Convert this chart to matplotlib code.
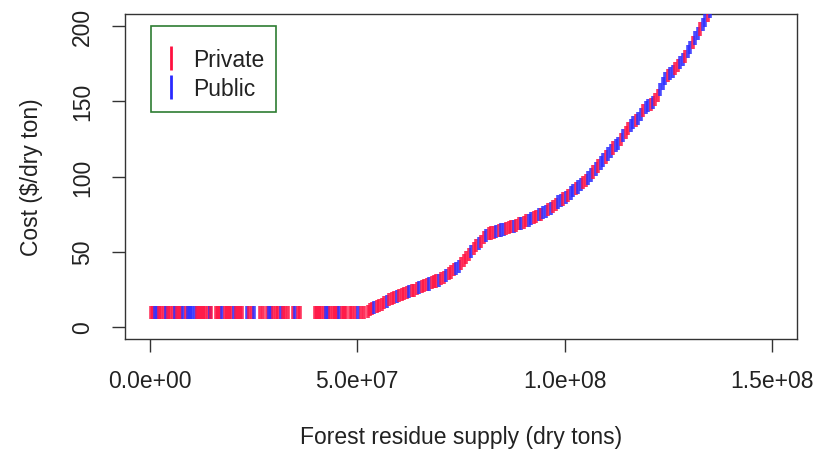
import matplotlib
matplotlib.use("Agg")
import matplotlib.pyplot as plt
from matplotlib.lines import Line2D
from matplotlib.patches import Rectangle

plt.rcParams["font.family"] = ["Liberation Sans", "DejaVu Sans"]

# Cumulative forest residue supply (million dry tons) and delivered cost ($/dry ton)
flat_supply = [0.2, 0.7, 1.2, 1.8, 2.3, 2.8, 3.3, 3.9, 4.4, 4.9, 5.5, 6.0, 6.5, 7.1, 7.6,
               8.1, 8.6, 9.2, 9.7, 10.2, 10.8, 11.3, 11.8, 12.3, 12.9, 13.4, 13.9, 14.4, 14.7,
               15.9, 16.4, 17.0, 17.5, 18.0, 18.6, 19.1, 19.6, 20.2, 20.7, 21.2, 21.8, 22.3,
               23.3, 23.8, 24.6, 25.1, 26.5, 27.2,
               28.2, 28.7, 29.3, 29.8, 30.4, 30.9, 31.5, 32.0, 32.6, 33.2,
               34.4, 35.0, 35.6, 36.3,
               39.7, 40.2, 40.8, 41.3, 41.9, 42.4, 43.0, 43.5, 44.1, 44.6, 45.2, 45.7, 46.3, 46.8, 47.3,
               48.2, 48.8, 49.4, 50.1, 51.0, 51.7]
flat_cost = [9.5] * len(flat_supply)
flat_owner = ("RRBBRRRBRRRBRRRBRBBBBRRRRRRBR"
              "RRRBRRRRBRRRR"
              "BRRB" "RR"
              "RBBRRRBRRR"
              "RBRR"
              "RRRRRBBRRRRBRRR"
              "RRRB" "RR")

rise_supply = [52.5, 53.0, 53.5, 54.1, 54.7, 55.3, 55.9, 56.5, 57.1, 57.7, 58.3, 58.9, 59.5,
               60.1, 60.7, 61.3, 61.9, 62.5, 63.1, 63.7, 64.3, 64.9, 65.5, 66.1, 66.7, 67.3,
               67.9, 68.5, 69.1, 69.7, 70.3, 70.9, 71.5, 72.1, 72.7, 73.3, 73.9, 74.5, 75.1,
               75.7, 76.3, 76.9, 77.5, 78.1, 78.7, 79.3, 79.9, 80.5, 81.1, 81.7, 82.3, 82.9,
               83.5, 84.1, 84.7, 85.3, 85.9, 86.5, 87.1, 87.7, 88.3, 88.9, 89.5, 90.1, 90.7,
               91.3, 91.9, 92.5, 93.1, 93.7, 94.3, 94.9, 95.5, 96.1, 96.7, 97.3, 97.9, 98.5,
               99.1, 99.7, 100.3, 100.9, 101.5, 102.1, 102.7, 103.3, 103.9, 104.5, 105.1,
               105.7, 106.3, 106.9, 107.5, 108.1, 108.7, 109.3, 109.9, 110.5, 111.1, 111.7,
               112.3, 112.9, 113.5, 114.1, 114.7, 115.3, 115.9, 116.5, 117.1, 117.7, 118.3,
               118.9, 119.5, 120.1, 120.7, 121.3, 121.9, 122.5, 123.1, 123.7, 124.3, 124.9,
               125.5, 126.1, 126.7, 127.3, 127.9, 128.5, 129.1, 129.7, 130.3, 130.9, 131.5,
               132.1, 132.7, 133.3, 133.9, 134.5, 135.1, 135.7]
rise_cost = [10.5, 11.5, 12.5, 13, 13.5, 14.5, 15, 16, 17, 18, 19, 19.5, 20.5,
             21, 21.5, 22, 23, 23.5, 24, 24.5, 25.5, 26, 27, 27.5, 28, 28.5,
             29.5, 30, 30.5, 31, 32, 33, 34, 35.5, 36.5, 38, 39, 40, 42,
             44, 46, 48, 50, 52, 54, 55.5, 57, 59.5, 61, 62, 62.5, 63,
             63.5, 64, 64.5, 65, 65.5, 66, 66.5, 67, 67.5, 68.5, 69, 69.5, 70.5,
             71, 72, 72.5, 73.5, 74.5, 75, 76, 77, 78, 79, 80, 81.5, 83,
             84, 85, 86, 87.5, 89, 90.5, 92, 93, 94.5, 96, 97.5,
             99, 101, 103, 105, 107, 109, 111, 113, 115, 117, 119,
             120.5, 122, 124.5, 127, 129.5, 132, 134, 136, 137, 138.5, 141,
             144, 146, 147, 148, 149, 151, 154, 158, 162, 165, 167,
             168.5, 170, 172, 174, 175.5, 177.5, 180, 183, 186, 189, 192,
             195, 198, 201, 204, 207, 210, 213]
rise_owner = ("RRRBRRRRBRRRBRRRRBRRRBRR"
              "RBRRRBRRBRRRBBRRRRBRRBRR"
              "BRRRBRBBRRRBRRBRRBBRRBRB"
              "BRBRRBBRBRBBRBBRRBBRBRBB"
              "RBBRBBRBRRBBRBBRBBRBRRBB"
              "BRBBRRBBRBBRBBRBBRBB")

owner_colours = {"R": "#ff1040", "B": "#2a2aff"}
owner_names = {"R": "Private", "B": "Public"}

supply = [s * 1e6 for s in flat_supply + rise_supply]
cost = flat_cost + rise_cost
owner = list(flat_owner + rise_owner)[:len(supply)]

fig = plt.figure(figsize=(8.31, 4.52), dpi=100)
ax = fig.add_axes([0.1504, 0.2478, 0.8086, 0.7190])

ax.scatter(supply, cost, c=[owner_colours[o] for o in owner], marker="|",
           s=90, linewidths=2.6, alpha=0.85, zorder=3)

ax.set_xlim(-6e6, 1.56e8)
ax.set_ylim(-8, 208)
ax.set_xticks([0, 5e7, 1e8, 1.5e8])
ax.set_xticklabels(["0.0e+00", "5.0e+07", "1.0e+08", "1.5e+08"])
ax.set_yticks([0, 50, 100, 150, 200])
ax.set_yticklabels(["0", "50", "100", "150", "200"], rotation=90, va="center")

fs = 16.5
text_col = "#222222"
for side in ax.spines.values():
    side.set_color("#333333")
    side.set_linewidth(1.0)
ax.tick_params(axis="both", length=9.4, width=1.0, color="#333333",
               labelsize=fs, labelcolor=text_col)
ax.tick_params(axis="x", pad=12)
ax.tick_params(axis="y", pad=13)

ax.set_xlabel("Forest residue supply (dry tons)", fontsize=fs, color=text_col, labelpad=24)
ax.set_ylabel("Cost ($/dry ton)", fontsize=fs, color=text_col, labelpad=20)

# Legend box drawn as its own frame, entries placed inside it
ax.add_patch(Rectangle((0.0387, 0.6985), 0.186, 0.2645, transform=ax.transAxes,
                       facecolor="white", edgecolor="#2e7d32", linewidth=1.2, zorder=4))
handles = [Line2D([], [], linestyle="none", marker="|", markersize=17, markeredgewidth=2.0,
                  color=owner_colours[k], label=owner_names[k]) for k in ("R", "B")]
leg = ax.legend(handles=handles, loc="upper left", bbox_to_anchor=(0.058, 0.8954),
                fontsize=fs, frameon=False, borderpad=0, borderaxespad=0,
                handlelength=0.6, handletextpad=0.66, labelspacing=0.25)
leg.set_zorder(5)
for t in leg.get_texts():
    t.set_color(text_col)

fig.savefig("out.png", dpi=100)
